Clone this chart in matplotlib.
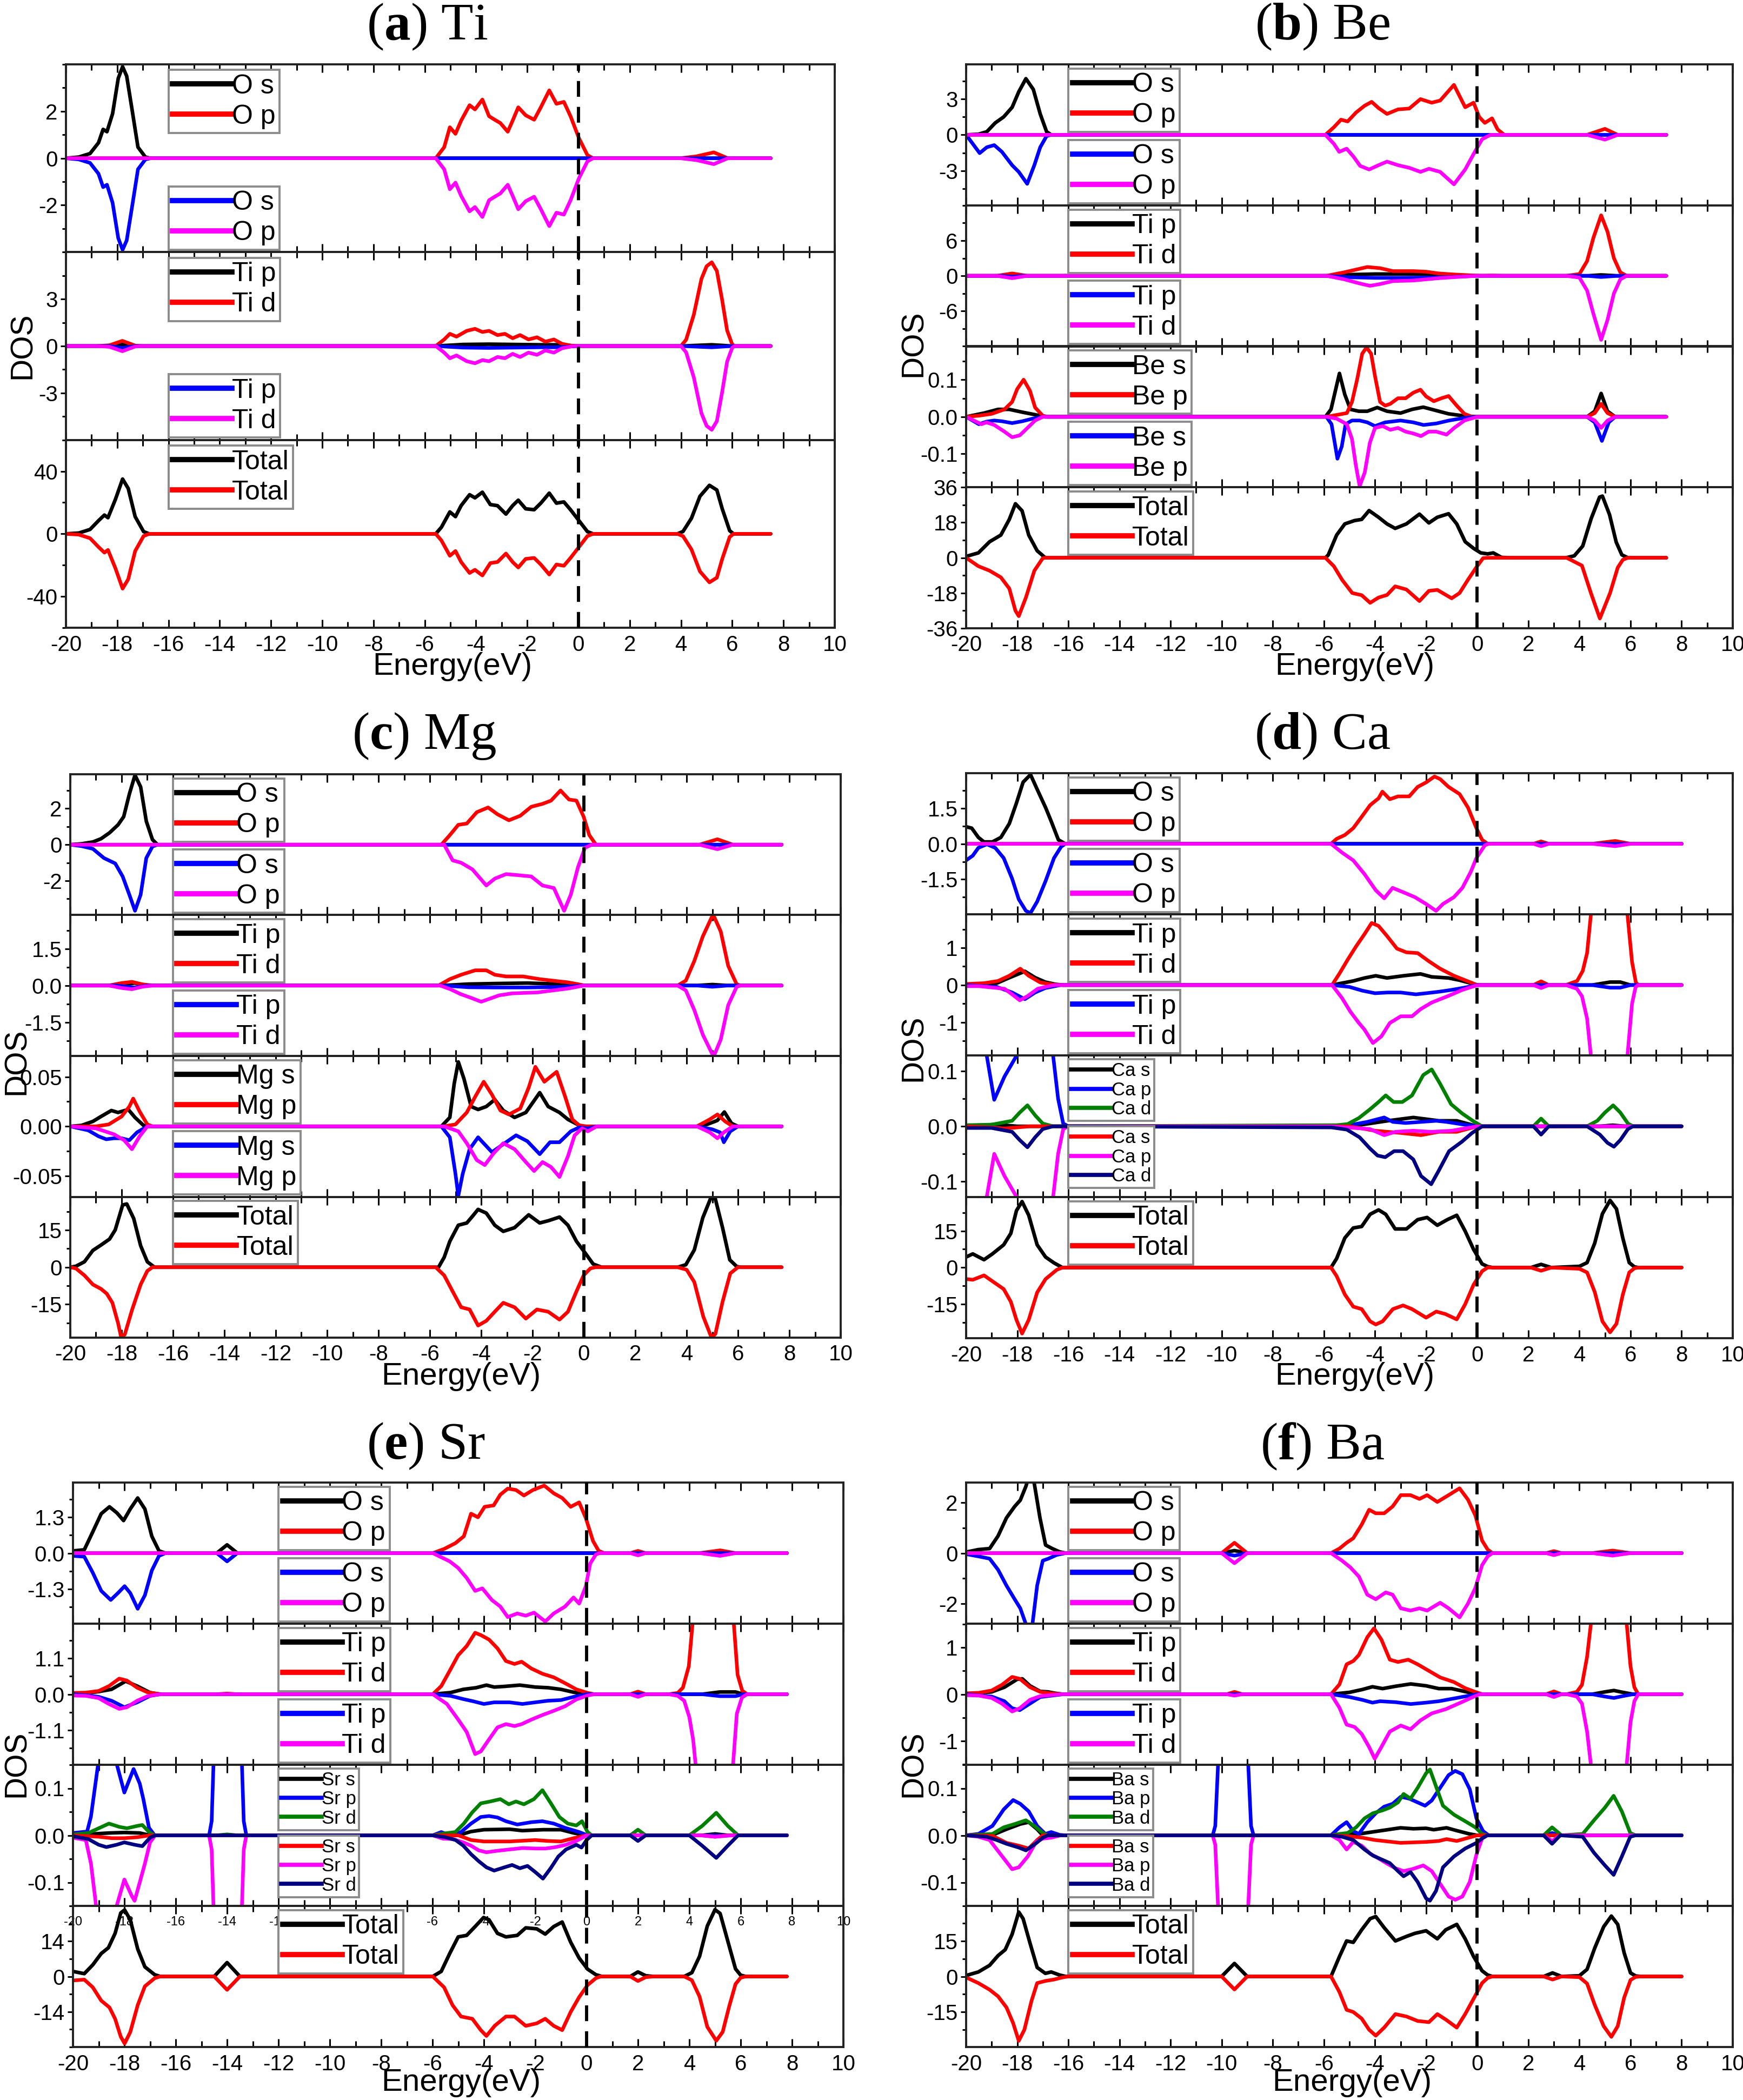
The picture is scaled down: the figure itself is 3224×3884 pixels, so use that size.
import numpy as np
import matplotlib
matplotlib.use("Agg")
import matplotlib.pyplot as plt
from matplotlib.lines import Line2D
from matplotlib.ticker import MultipleLocator

# ---------------- DATA (energy eV, DOS magnitude) ----------------
# Panel (a) Ti  (spin-up and spin-down equal)
A_OS = [(-20,0),(-19.5,0.05),(-19.06,0.2),(-18.73,0.66),(-18.55,1.23),(-18.4,1.13),(-18.18,1.9),(-17.96,3.4),(-17.79,3.9),(-17.63,3.5),(-17.41,2.0),(-17.19,0.47),(-16.9,0.05),(-16.7,0),(7.5,0)]
A_OP = [(-20,0),(-5.57,0),(-5.24,0.47),(-5.02,1.32),(-4.8,1.04),(-4.58,1.6),(-4.25,2.26),(-4.04,2.08),(-3.75,2.5),(-3.49,1.79),(-3.27,1.64),(-3.05,1.5),(-2.76,1.13),(-2.57,1.6),(-2.35,2.17),(-2.06,1.83),(-1.73,1.64),(-1.47,2.17),(-1.14,2.89),(-0.86,2.32),(-0.57,2.4),(-0.31,1.79),(0.02,0.85),(0.35,0.13),(0.57,0),(3.97,0),(4.6,0.08),(5.28,0.25),(5.83,0),(7.5,0)]
A_TIP = [(-20,0),(-18.3,0),(-17.8,0.12),(-17.3,0),(-5.57,0),(-4.5,0.1),(-3.5,0.12),(-2.5,0.1),(-1.5,0.08),(-0.8,0.08),(0,0),(4.0,0),(5.2,0.08),(6.0,0),(7.5,0)]
A_TID = [(-20,0),(-18.8,0),(-18.3,0.05),(-17.8,0.33),(-17.3,0.03),(-17.0,0),(-5.57,0),(-5.24,0.42),(-5.02,0.78),(-4.76,0.6),(-4.36,0.97),(-4.04,1.1),(-3.75,0.9),(-3.49,0.97),(-3.16,0.7),(-2.87,0.78),(-2.57,0.5),(-2.28,0.7),(-1.95,0.42),(-1.62,0.56),(-1.29,0.28),(-0.96,0.42),(-0.64,0.14),(-0.2,0),(4.0,0),(4.2,0.4),(4.5,2.0),(4.8,4.3),(5.0,5.1),(5.2,5.35),(5.4,4.8),(5.6,3.0),(5.8,1.0),(6.0,0.1),(6.1,0),(7.5,0)]
A_TOT = [(-20,0),(-19.5,0.5),(-19.06,2.8),(-18.73,8.4),(-18.5,12),(-18.36,10.3),(-18.07,22),(-17.79,35),(-17.57,29),(-17.3,11),(-16.97,1.4),(-16.75,0),(-5.57,0),(-5.35,4.2),(-5.02,14),(-4.8,11),(-4.58,18),(-4.25,25),(-4.04,23),(-3.75,26.6),(-3.44,18.7),(-3.16,18),(-2.83,12.6),(-2.57,18),(-2.35,21.5),(-2.06,16),(-1.73,15.4),(-1.47,19.6),(-1.14,26),(-0.86,19.6),(-0.57,20.4),(-0.31,15.4),(0.02,8.4),(0.35,1.4),(0.57,0),(3.86,0),(4.08,1.5),(4.41,10),(4.74,24),(5.11,31),(5.4,28),(5.61,16),(5.9,2),(6.05,0),(7.5,0)]

# Panel (b) Be
B_OS_UP = [(-20,0),(-19.52,0.05),(-19.19,0.26),(-18.86,1.0),(-18.53,1.5),(-18.2,2.3),(-17.94,3.6),(-17.66,4.7),(-17.37,3.8),(-17.1,1.75),(-16.85,0.26),(-16.67,0),(7.4,0)]
B_OS_DN = [(-20,0),(-19.74,0.75),(-19.47,1.53),(-19.19,1.04),(-18.9,0.86),(-18.6,1.42),(-18.2,2.54),(-17.94,3.1),(-17.61,4.1),(-17.33,2.54),(-17.1,1.04),(-16.85,0.1),(-16.67,0),(7.4,0)]
B_OP_UP = [(-20,0),(-5.94,0),(-5.61,0.63),(-5.33,1.27),(-5.07,1.12),(-4.74,1.87),(-4.41,2.43),(-4.13,2.76),(-3.86,2.24),(-3.53,1.75),(-3.1,2.13),(-2.66,2.2),(-2.22,2.99),(-1.78,2.69),(-1.45,2.87),(-0.91,4.18),(-0.47,2.31),(-0.14,2.69),(0.08,1.49),(0.3,1.0),(0.58,1.38),(0.8,0.45),(1.06,0),(4.3,0),(5.0,0.5),(5.5,0),(7.4,0)]
B_OP_DN = [(-20,0),(-5.94,0),(-5.61,0.75),(-5.4,1.42),(-5.11,1.16),(-4.85,1.8),(-4.58,2.6),(-4.23,2.9),(-3.86,2.54),(-3.53,2.24),(-3.1,2.54),(-2.66,2.76),(-2.22,3.1),(-1.89,2.84),(-1.45,3.1),(-0.91,4.14),(-0.47,2.9),(-0.14,1.6),(0.19,0.37),(0.52,0),(4.3,0),(5.0,0.4),(5.5,0),(7.4,0)]
B_TIP_UP = [(-20,0),(-18.6,0),(-18.2,0.15),(-17.8,0),(-5.9,0),(-5.0,0.2),(-4.0,0.3),(-3.0,0.3),(-2.0,0.3),(-1.0,0.15),(0,0),(4.3,0),(4.85,0.15),(5.5,0),(7.4,0)]
B_TIP_DN = [(-20,0),(-18.6,0),(-18.2,0.15),(-17.8,0),(-5.9,0),(-5.0,0.25),(-4.0,0.35),(-3.0,0.35),(-2.0,0.3),(-1.0,0.2),(0,0),(4.3,0),(4.85,0.2),(5.5,0),(7.4,0)]
B_TID_UP = [(-20,0),(-18.8,0),(-18.2,0.4),(-17.6,0),(-5.9,0),(-5.2,0.6),(-4.6,1.2),(-4.3,1.5),(-3.8,1.3),(-3.3,0.8),(-2.5,0.8),(-2.0,0.7),(-1.5,0.4),(-0.8,0.2),(-0.3,0.1),(0.2,0),(0.6,0.05),(1.0,0),(3.47,0),(4.0,0.3),(4.3,2.5),(4.55,6.5),(4.85,10.3),(5.1,7.5),(5.35,3.0),(5.6,0.6),(5.85,0),(7.4,0)]
B_TID_DN = [(-20,0),(-18.8,0),(-18.2,0.4),(-17.6,0),(-5.9,0),(-5.2,0.6),(-4.6,1.3),(-4.2,1.7),(-3.8,1.4),(-3.3,0.9),(-2.5,0.8),(-2.0,0.6),(-1.5,0.4),(-0.8,0.2),(0,0),(3.47,0),(4.0,0.3),(4.3,2.5),(4.55,6.5),(4.85,10.9),(5.1,7.5),(5.35,3.0),(5.6,0.6),(5.85,0),(7.4,0)]
B_BES_UP = [(-20,0),(-19.3,0.01),(-18.75,0.02),(-18.31,0.02),(-17.77,0.012),(-17.1,0.003),(-16.9,0),(-5.94,0),(-5.72,0.02),(-5.55,0.07),(-5.39,0.117),(-5.18,0.06),(-4.96,0.02),(-4.63,0.015),(-4.3,0.015),(-3.91,0.025),(-3.53,0.015),(-3.0,0.01),(-2.55,0.02),(-2.11,0.026),(-1.67,0.018),(-1.12,0.008),(-0.47,0.002),(0,0),(4.3,0),(4.6,0.015),(4.85,0.063),(5.1,0.015),(5.4,0),(7.4,0)]
B_BEP_UP = [(-20,0),(-19.5,0.003),(-19,0.008),(-18.5,0.02),(-18.2,0.04),(-18.0,0.075),(-17.75,0.1),(-17.5,0.07),(-17.3,0.025),(-17.0,0.003),(-16.8,0),(-5.9,0),(-5.5,0.005),(-5.1,0.01),(-4.9,0.04),(-4.7,0.1),(-4.5,0.17),(-4.33,0.187),(-4.15,0.17),(-4.0,0.11),(-3.8,0.04),(-3.6,0.03),(-3.4,0.035),(-3.1,0.05),(-2.8,0.05),(-2.5,0.065),(-2.22,0.073),(-2.0,0.055),(-1.7,0.042),(-1.4,0.05),(-1.12,0.056),(-0.8,0.03),(-0.5,0.008),(-0.2,0),(4.3,0),(4.6,0.01),(4.85,0.035),(5.1,0.01),(5.4,0),(7.4,0)]
B_BES_DN = [(-20,0),(-19.7,0.012),(-19.5,0.02),(-19.2,0.013),(-18.9,0.01),(-18.6,0.012),(-18.2,0.017),(-17.8,0.012),(-17.4,0.005),(-17.0,0),(-5.9,0),(-5.7,0.02),(-5.55,0.08),(-5.47,0.113),(-5.3,0.08),(-5.15,0.02),(-4.9,0.01),(-4.6,0.01),(-4.3,0.015),(-4.0,0.025),(-3.6,0.015),(-3.0,0.01),(-2.5,0.015),(-2.1,0.022),(-1.6,0.018),(-1.1,0.01),(-0.5,0.003),(0,0),(4.3,0),(4.6,0.015),(4.88,0.065),(5.15,0.015),(5.4,0),(7.4,0)]
B_BEP_DN = [(-20,0),(-19.7,0.01),(-19.4,0.02),(-19.2,0.015),(-18.9,0.022),(-18.5,0.04),(-18.2,0.055),(-17.9,0.05),(-17.6,0.03),(-17.3,0.01),(-17.0,0),(-5.9,0),(-5.5,0.005),(-5.1,0.02),(-4.9,0.06),(-4.75,0.13),(-4.6,0.187),(-4.4,0.15),(-4.2,0.07),(-4.0,0.03),(-3.7,0.025),(-3.4,0.035),(-3.1,0.03),(-2.8,0.04),(-2.5,0.045),(-2.2,0.052),(-1.9,0.04),(-1.6,0.04),(-1.2,0.048),(-0.9,0.03),(-0.5,0.01),(0,0),(4.3,0),(4.6,0.01),(4.85,0.03),(5.1,0.01),(5.4,0),(7.4,0)]
B_TOT_UP = [(-20,0.7),(-19.52,2.5),(-19.08,8.2),(-18.64,11.6),(-18.31,19.6),(-18.07,27.6),(-17.81,24),(-17.55,11.6),(-17.22,3.6),(-16.9,0),(-5.94,0),(-5.83,1.4),(-5.5,11.6),(-5.18,17.3),(-4.8,19),(-4.52,19.6),(-4.23,24.1),(-3.86,20.7),(-3.53,17.3),(-3.21,15),(-2.77,17.3),(-2.26,22.3),(-1.89,17.8),(-1.56,20.7),(-1.12,22.5),(-0.8,17.3),(-0.47,8.2),(-0.14,4.8),(0.14,2.5),(0.41,2),(0.63,2.5),(0.95,0.2),(1.28,0),(3.47,0),(3.8,1),(4.13,6),(4.46,20),(4.79,31),(4.9,31.5),(5.18,22),(5.44,8),(5.66,1.5),(5.9,0),(7.4,0)]
B_TOT_DN = [(-20,0),(-19.52,4.3),(-19.08,6.6),(-18.64,10),(-18.31,15.7),(-18.07,27),(-17.94,29.8),(-17.66,20.3),(-17.33,6.6),(-17.0,0.2),(-16.9,0),(-5.94,0),(-5.61,4.3),(-5.29,11.2),(-4.89,18),(-4.52,19.1),(-4.19,23),(-3.86,20.3),(-3.53,19),(-3.21,14.6),(-2.77,16.2),(-2.26,22.1),(-1.89,16.9),(-1.56,16.4),(-1.0,20.7),(-0.69,18),(-0.36,11.2),(-0.03,4.8),(0.23,0.2),(0.4,0),(3.5,0),(4.1,4),(4.45,18),(4.8,31),(5.2,18),(5.5,5),(5.7,1),(5.9,0),(7.4,0)]

# Panel (c) Mg
C_OS_UP = [(-20,0),(-19.56,0.05),(-19.12,0.15),(-18.8,0.33),(-18.47,0.66),(-18.14,1.1),(-17.92,1.55),(-17.7,2.8),(-17.48,3.85),(-17.26,3.2),(-17.04,1.3),(-16.8,0.28),(-16.6,0),(7.7,0)]
C_OS_DN = [(-20,0),(-19.56,0.08),(-19.12,0.23),(-18.69,0.74),(-18.25,1.04),(-17.96,1.76),(-17.7,2.77),(-17.48,3.66),(-17.26,2.77),(-17.04,0.74),(-16.8,0.1),(-16.6,0),(7.7,0)]
C_OP_UP = [(-20,0),(-5.55,0),(-5.22,0.53),(-4.89,1.1),(-4.56,1.17),(-4.17,1.8),(-3.73,2.06),(-3.36,1.68),(-2.92,1.35),(-2.48,1.6),(-2.05,2.1),(-1.61,2.26),(-1.28,2.44),(-0.91,3.0),(-0.58,2.5),(-0.29,2.44),(-0.01,1.55),(0.21,0.53),(0.47,0),(4.5,0),(5.2,0.3),(5.8,0),(7.7,0)]
C_OP_DN = [(-20,0),(-5.44,0),(-5.11,0.87),(-4.78,1.0),(-4.34,1.37),(-3.8,2.26),(-3.47,1.88),(-3.03,1.63),(-2.48,1.7),(-2.05,1.76),(-1.61,2.26),(-1.17,2.4),(-0.77,3.66),(-0.51,2.77),(-0.23,1.25),(0.04,0.18),(0.3,0),(4.5,0),(5.2,0.25),(5.8,0),(7.7,0)]
C_TIP_UP = [(-20,0),(-18.2,0),(-17.5,0.1),(-17.0,0),(-5.5,0),(-4.5,0.06),(-3.5,0.08),(-2.2,0.1),(-1.0,0.06),(0,0),(4.4,0),(5.0,0.04),(5.6,0),(7.7,0)]
C_TIP_DN = [(-20,0),(-18.2,0),(-17.5,0.08),(-17.0,0),(-5.5,0),(-4.5,0.07),(-3.5,0.08),(-2.2,0.08),(-1.0,0.06),(0,0),(4.4,0),(5.0,0.05),(5.6,0),(7.7,0)]
C_TID_UP = [(-20,0),(-18.5,0),(-18.0,0.1),(-17.6,0.15),(-17.2,0.05),(-16.8,0),(-5.66,0),(-5.22,0.26),(-4.78,0.44),(-4.23,0.62),(-3.8,0.62),(-3.47,0.44),(-3.03,0.37),(-2.37,0.37),(-1.72,0.26),(-1.06,0.18),(-0.62,0.13),(0.04,0),(3.65,0),(3.97,0.2),(4.3,1.0),(4.63,2.0),(5.03,2.9),(5.33,2.2),(5.62,0.8),(5.95,0.05),(6.1,0),(7.7,0)]
C_TID_DN = [(-20,0),(-18.5,0),(-18.0,0.1),(-17.6,0.15),(-17.2,0.05),(-16.8,0),(-5.6,0),(-5.2,0.15),(-4.8,0.35),(-4.4,0.5),(-4.0,0.66),(-3.7,0.55),(-3.3,0.4),(-2.8,0.32),(-2.3,0.3),(-1.8,0.28),(-1.2,0.2),(-0.6,0.12),(0,0),(3.65,0),(3.97,0.2),(4.3,1.0),(4.63,2.0),(5.05,2.9),(5.33,2.2),(5.62,0.8),(5.95,0.05),(6.1,0),(7.7,0)]
C_MGS_UP = [(-20,0),(-19.56,0.001),(-19.12,0.005),(-18.8,0.01),(-18.4,0.016),(-18.14,0.014),(-17.74,0.017),(-17.48,0.009),(-17.15,0.001),(-16.9,0),(-5.55,0),(-5.22,0.009),(-5.05,0.043),(-4.89,0.065),(-4.67,0.048),(-4.39,0.02),(-4.12,0.017),(-3.8,0.02),(-3.47,0.027),(-3.14,0.016),(-2.7,0.009),(-2.26,0.014),(-1.72,0.034),(-1.39,0.02),(-0.95,0.014),(-0.62,0.007),(-0.18,0.001),(0,0),(4.4,0),(4.8,0.002),(5.2,0.006),(5.47,0.0145),(5.75,0.003),(6.0,0),(7.7,0)]
C_MGP_UP = [(-20,0),(-19,0),(-18.5,0.002),(-18,0.01),(-17.7,0.02),(-17.55,0.028),(-17.3,0.015),(-17.0,0.002),(-16.8,0),(-5.44,0),(-5.0,0.002),(-4.56,0.014),(-4.23,0.03),(-3.9,0.045),(-3.58,0.032),(-3.25,0.016),(-2.92,0.012),(-2.48,0.018),(-2.15,0.039),(-1.89,0.06),(-1.54,0.045),(-1.06,0.055),(-0.73,0.03),(-0.45,0.007),(-0.18,0.001),(0.1,0),(4.4,0),(4.9,0.007),(5.2,0.012),(5.5,0.005),(5.8,0),(7.7,0)]
C_MGS_DN = [(-20,0),(-19.3,0.004),(-18.9,0.01),(-18.6,0.013),(-18.3,0.012),(-18.0,0.012),(-17.7,0.014),(-17.4,0.006),(-17.0,0),(-5.55,0),(-5.22,0.011),(-5.0,0.048),(-4.89,0.07),(-4.72,0.048),(-4.45,0.023),(-4.12,0.011),(-3.58,0.026),(-3.14,0.018),(-2.64,0.009),(-2.2,0.015),(-1.72,0.028),(-1.32,0.016),(-0.95,0.016),(-0.51,0.005),(-0.18,0.001),(0.15,0.002),(0.5,0),(4.4,0),(5.0,0.003),(5.3,0.006),(5.45,0.016),(5.7,0.005),(6.0,0),(7.7,0)]
C_MGP_DN = [(-20,0),(-19,0.002),(-18.3,0.008),(-17.9,0.014),(-17.6,0.023),(-17.3,0.01),(-17.0,0),(-5.44,0),(-4.89,0.005),(-4.56,0.017),(-4.17,0.034),(-3.86,0.039),(-3.51,0.027),(-3.14,0.017),(-2.7,0.023),(-2.26,0.036),(-1.94,0.045),(-1.61,0.036),(-1.28,0.041),(-0.95,0.051),(-0.62,0.03),(-0.36,0.009),(-0.07,0.002),(0.15,0.005),(0.5,0),(4.4,0),(4.9,0.006),(5.2,0.012),(5.45,0.006),(5.8,0),(7.7,0)]
C_TOT_UP = [(-20,0),(-19.78,0.4),(-19.45,2.2),(-19.12,6.8),(-18.8,9),(-18.47,11.4),(-18.25,15.1),(-17.96,25.2),(-17.8,25.6),(-17.53,19.7),(-17.26,8.7),(-17.0,2.2),(-16.72,0),(-5.66,0),(-5.44,4),(-5.22,10.5),(-4.89,17),(-4.56,17.9),(-4.34,20.6),(-4.12,23.4),(-3.8,21.9),(-3.47,17),(-3.14,14.5),(-2.7,16),(-2.15,21.2),(-1.72,17.9),(-1.39,18.8),(-0.95,20.3),(-0.62,17),(-0.29,10.5),(0.04,5.9),(0.36,1.3),(0.69,0),(3.65,0),(3.97,1),(4.3,7),(4.63,20),(4.96,28.5),(5.11,28),(5.4,16),(5.68,3),(5.95,0.3),(6.1,0),(7.7,0)]
C_TOT_DN = [(-20,0),(-19.78,0.5),(-19.45,3.3),(-19.12,7),(-18.8,8.8),(-18.58,10.7),(-18.36,14.4),(-18.14,22.6),(-18.03,27.8),(-17.88,27.3),(-17.59,17.1),(-17.26,7),(-17.0,1.5),(-16.8,0),(-5.77,0),(-5.44,3.3),(-5.11,9.8),(-4.78,16.2),(-4.45,17.1),(-4.12,23.6),(-3.8,21.7),(-3.47,18),(-3.14,14.4),(-2.7,16.2),(-2.26,20.8),(-1.83,17.1),(-1.39,18),(-0.95,21.2),(-0.62,18),(-0.29,9.8),(-0.01,3.3),(0.25,0.5),(0.45,0),(3.65,0),(4.0,1),(4.3,6),(4.65,20),(4.97,28.5),(5.12,27),(5.4,14),(5.7,2.5),(6.0,0),(7.7,0)]

# Panel (d) Ca
D_OS_UP = [(-20,0.72),(-19.78,0.66),(-19.52,0.27),(-19.3,0.08),(-18.97,0.08),(-18.64,0.27),(-18.31,0.85),(-18.03,1.72),(-17.77,2.6),(-17.48,2.92),(-17.22,2.3),(-16.89,1.53),(-16.67,0.95),(-16.39,0.17),(-16.12,0),(8.0,0)]
D_OS_DN = [(-20,0.7),(-19.74,0.5),(-19.52,0.17),(-19.19,0.02),(-18.86,0.17),(-18.53,0.6),(-18.2,1.47),(-17.94,2.34),(-17.66,2.83),(-17.48,2.92),(-17.22,2.44),(-16.89,1.57),(-16.56,0.6),(-16.28,0.12),(-16.12,0),(8.0,0)]
D_OP_UP = [(-20,0),(-5.72,0),(-5.5,0.21),(-5.18,0.37),(-4.85,0.66),(-4.52,1.14),(-4.19,1.63),(-3.86,1.92),(-3.71,2.2),(-3.42,1.88),(-3.1,2.0),(-2.66,2.0),(-2.33,2.4),(-2.0,2.59),(-1.67,2.84),(-1.45,2.73),(-1.12,2.4),(-0.69,2.1),(-0.36,1.53),(-0.03,0.66),(0.19,0.17),(0.41,0),(2.2,0),(2.5,0.1),(2.8,0),(4.5,0),(5.4,0.12),(6.0,0),(8.0,0)]
D_OP_DN = [(-20,0),(-5.72,0),(-5.29,0.37),(-4.85,0.7),(-4.41,1.28),(-3.97,1.96),(-3.64,2.3),(-3.31,1.86),(-2.88,2.05),(-2.44,2.25),(-2.0,2.54),(-1.61,2.83),(-1.34,2.54),(-0.91,2.25),(-0.58,1.86),(-0.25,1.18),(-0.03,0.6),(0.3,0.06),(0.45,0),(2.2,0),(2.5,0.1),(2.8,0),(4.5,0),(5.4,0.1),(6.0,0),(8.0,0)]
D_TIP_UP = [(-20,0),(-18.8,0.05),(-18.3,0.2),(-17.7,0.37),(-17.3,0.2),(-16.9,0.08),(-16.5,0.02),(-16.2,0),(-5.68,0),(-4.85,0.11),(-4.41,0.19),(-3.97,0.25),(-3.53,0.19),(-2.88,0.25),(-2.22,0.3),(-1.78,0.22),(-1.12,0.19),(-0.69,0.13),(-0.25,0.05),(0,0),(4.5,0),(5.2,0.08),(5.6,0.08),(6.0,0),(8.0,0)]
D_TIP_DN = [(-20,0),(-18.8,0.05),(-18.2,0.2),(-17.7,0.38),(-17.3,0.2),(-16.9,0.08),(-16.3,0),(-5.68,0),(-5.0,0.05),(-4.5,0.15),(-4.0,0.22),(-3.5,0.2),(-3.0,0.2),(-2.4,0.25),(-2.0,0.22),(-1.5,0.18),(-1.0,0.13),(-0.5,0.07),(0,0),(4.5,0),(5.2,0.07),(5.6,0.07),(6.0,0),(8.0,0)]
D_TID_UP = [(-20,0.03),(-19.3,0.05),(-18.75,0.11),(-18.31,0.25),(-17.88,0.44),(-17.55,0.25),(-17.1,0.07),(-16.67,0.02),(-16.4,0),(-5.68,0),(-5.39,0.31),(-5.07,0.68),(-4.74,1.04),(-4.41,1.37),(-4.13,1.67),(-3.86,1.59),(-3.53,1.32),(-3.14,0.98),(-2.77,0.88),(-2.33,0.86),(-1.89,0.64),(-1.45,0.44),(-0.91,0.25),(-0.47,0.13),(-0.03,0.01),(0.2,0),(2.2,0),(2.5,0.1),(2.8,0),(3.47,0),(3.91,0.11),(4.13,0.38),(4.3,0.86),(4.45,1.9),(4.6,3.5),(4.9,7),(5.2,8),(5.5,6),(5.75,3),(5.88,1.9),(6.06,0.62),(6.21,0.07),(6.3,0),(8.0,0)]
D_TID_DN = [(-20,0.03),(-19.5,0.03),(-18.5,0.1),(-18.2,0.25),(-17.9,0.41),(-17.6,0.3),(-17.2,0.1),(-16.7,0.02),(-16.5,0),(-5.68,0),(-5.29,0.35),(-4.96,0.72),(-4.63,1.02),(-4.41,1.2),(-4.08,1.56),(-3.75,1.38),(-3.42,1.02),(-2.99,0.84),(-2.55,0.84),(-2.22,0.65),(-1.78,0.47),(-1.12,0.29),(-0.58,0.13),(-0.03,0.01),(0.2,0),(2.2,0),(2.5,0.08),(2.8,0),(3.47,0),(3.9,0.1),(4.1,0.3),(4.3,0.9),(4.45,1.9),(4.6,3.5),(4.9,7),(5.2,8),(5.5,6),(5.75,3),(5.88,1.9),(6.06,0.5),(6.2,0.05),(6.3,0),(8.0,0)]
D_CAS_UP = [(-20,0),(-19.5,0.001),(-19.0,0.003),(-18.5,0.002),(-18,0),(-5.0,0),(-4.5,0.003),(-3.5,0.01),(-2.5,0.016),(-1.5,0.01),(-0.8,0.01),(0,0),(4.8,0),(5.3,0.002),(5.8,0),(8.0,0)]
D_CAP_UP = [(-20,0.5),(-19.4,0.3),(-19.2,0.13),(-18.9,0.048),(-18.5,0.09),(-18.0,0.13),(-17.6,0.4),(-17.0,0.4),(-16.6,0.13),(-16.4,0.05),(-16.2,0.005),(-16.0,0),(-5.7,0),(-5.0,0.002),(-4.3,0.008),(-3.64,0.016),(-3.3,0.008),(-2.8,0.006),(-2.2,0.008),(-1.6,0.01),(-1.2,0.008),(-0.5,0.003),(0.1,0),(8.0,0)]
D_CAD_UP = [(-20,0.002),(-19,0.003),(-18.2,0.01),(-17.9,0.025),(-17.6,0.038),(-17.3,0.02),(-17.0,0.005),(-16.6,0),(-5.5,0.002),(-5.07,0.004),(-4.63,0.015),(-4.19,0.031),(-3.86,0.044),(-3.58,0.056),(-3.27,0.044),(-2.93,0.044),(-2.55,0.056),(-2.11,0.093),(-1.78,0.103),(-1.45,0.077),(-1.02,0.04),(-0.58,0.023),(-0.14,0.009),(0.19,0),(2.2,0),(2.5,0.014),(2.8,0),(4.3,0),(4.7,0.01),(5.0,0.025),(5.32,0.038),(5.6,0.025),(5.9,0.005),(6.1,0),(8.0,0)]
D_CAS_DN = [(-20,0),(-19,0.002),(-18.5,0.004),(-18,0.002),(-17.5,0),(-5.0,0),(-4.0,0.008),(-3.0,0.012),(-2.2,0.016),(-1.5,0.01),(-0.8,0.01),(0,0),(8.0,0)]
D_CAP_DN = [(-20,0.5),(-19.4,0.3),(-19.2,0.13),(-18.9,0.05),(-18.5,0.09),(-18.0,0.13),(-17.6,0.4),(-17.0,0.4),(-16.6,0.13),(-16.4,0.05),(-16.2,0.005),(-16.0,0),(-5.7,0),(-4.2,0.005),(-3.64,0.016),(-3.2,0.01),(-2.5,0.008),(-1.8,0.01),(-1.0,0.008),(0,0),(8.0,0)]
D_CAD_DN = [(-20,0.003),(-19,0.003),(-18.2,0.01),(-17.9,0.025),(-17.6,0.038),(-17.3,0.02),(-17.0,0.005),(-16.6,0),(-5.7,0.002),(-5.1,0.006),(-4.6,0.02),(-4.2,0.04),(-3.9,0.053),(-3.6,0.056),(-3.25,0.045),(-2.9,0.045),(-2.5,0.06),(-2.2,0.09),(-1.8,0.105),(-1.5,0.08),(-1.1,0.045),(-0.6,0.028),(-0.2,0.012),(0.2,0),(2.2,0),(2.5,0.015),(2.8,0),(4.3,0),(4.8,0.015),(5.1,0.03),(5.35,0.037),(5.6,0.025),(5.9,0.005),(6.1,0),(8.0,0)]
D_TOT_UP = [(-20,4.3),(-19.74,5.6),(-19.3,3.2),(-18.97,5.6),(-18.53,9.3),(-18.25,14),(-18.03,23.3),(-17.81,27),(-17.55,21.4),(-17.22,9.3),(-16.89,4.3),(-16.56,1.9),(-16.23,0),(-5.72,0),(-5.5,3.7),(-5.18,12.1),(-4.85,16.2),(-4.52,16.8),(-4.19,21.8),(-3.86,23.6),(-3.58,21.8),(-3.21,15.8),(-2.77,15.8),(-2.33,19.6),(-1.96,20.5),(-1.56,17.3),(-1.17,19.6),(-0.8,21.4),(-0.47,14.9),(-0.14,7.4),(0.19,1.5),(0.41,0.4),(0.6,0),(2.1,0),(2.5,1.3),(2.9,0),(4.0,0.5),(4.3,2),(4.6,10),(4.9,22),(5.2,27.5),(5.45,24),(5.7,12),(5.95,2),(6.15,0.3),(6.3,0),(8.0,0)]
D_TOT_DN = [(-20,4.7),(-19.74,5),(-19.3,3.2),(-18.97,5.6),(-18.53,8.8),(-18.25,14),(-18.03,21.4),(-17.81,27),(-17.55,21.4),(-17.22,10.2),(-16.89,4.7),(-16.45,0.9),(-16.23,0),(-5.72,0),(-5.5,3.5),(-5.18,11),(-4.85,16),(-4.52,17),(-4.19,22),(-3.97,23.3),(-3.7,22),(-3.3,17),(-2.9,15.5),(-2.55,17),(-2.0,20.5),(-1.6,18),(-1.25,19),(-0.8,21.2),(-0.47,15),(-0.14,7),(0.19,1.5),(0.41,0),(2.1,0),(2.5,1.3),(2.9,0),(4.0,0.5),(4.3,2),(4.6,10),(4.9,22),(5.2,26.5),(5.45,23),(5.7,11),(5.95,2),(6.15,0.3),(6.3,0),(8.0,0)]

# Panel (e) Sr
E_OS_UP = [(-20,0.08),(-19.56,0.12),(-19.23,0.77),(-18.9,1.43),(-18.58,1.68),(-18.29,1.46),(-18.03,1.18),(-17.77,1.6),(-17.48,2.0),(-17.2,1.6),(-16.93,0.61),(-16.65,0.08),(-16.4,0),(-14.4,0),(-14.0,0.3),(-13.6,0),(7.8,0)]
E_OS_DN = [(-20,0.1),(-19.56,0.13),(-19.23,0.71),(-18.9,1.37),(-18.53,1.7),(-18.25,1.45),(-17.99,1.2),(-17.77,1.45),(-17.48,2.02),(-17.2,1.53),(-16.93,0.63),(-16.65,0.1),(-16.4,0),(-14.4,0),(-14.0,0.3),(-13.6,0),(7.8,0)]
E_OP_UP = [(-20,0),(-5.99,0),(-5.55,0.15),(-5.11,0.36),(-4.78,0.61),(-4.5,1.43),(-4.23,1.3),(-3.97,1.68),(-3.62,1.73),(-3.36,2.12),(-3.07,2.34),(-2.75,2.29),(-2.44,2.09),(-2.09,2.29),(-1.65,2.45),(-1.28,2.17),(-0.95,2.0),(-0.62,1.68),(-0.29,1.84),(-0.03,1.27),(0.25,0.44),(0.47,0.08),(0.69,0),(1.7,0),(2.0,0.08),(2.3,0),(4.4,0),(5.2,0.1),(5.8,0),(7.8,0)]
E_OP_DN = [(-20,0),(-5.99,0),(-5.33,0.3),(-5.0,0.54),(-4.67,0.9),(-4.34,1.37),(-4.06,1.28),(-3.69,1.7),(-3.36,1.94),(-3.07,2.32),(-2.7,2.19),(-2.37,2.27),(-2.05,2.16),(-1.61,2.48),(-1.28,2.19),(-0.84,1.94),(-0.51,1.61),(-0.29,1.83),(-0.03,1.2),(0.14,0.38),(0.36,0.05),(0.5,0),(1.7,0),(2.0,0.08),(2.3,0),(4.4,0),(5.2,0.1),(5.8,0),(7.8,0)]
E_TIP_UP = [(-20,0),(-19.5,0.03),(-19.0,0.08),(-18.5,0.15),(-17.95,0.4),(-17.5,0.25),(-17.0,0.05),(-16.6,0),(-6.0,0),(-5.3,0.05),(-4.8,0.15),(-4.3,0.2),(-3.9,0.28),(-3.6,0.22),(-3.2,0.24),(-2.6,0.28),(-2.0,0.22),(-1.5,0.2),(-1.0,0.15),(-0.5,0.06),(0,0),(1.7,0),(1.9,0.03),(2.2,0),(4.5,0),(5.2,0.07),(5.8,0.07),(6.1,0),(7.8,0)]
E_TIP_DN = [(-20,0),(-19.5,0.03),(-19.0,0.08),(-18.5,0.2),(-18.0,0.4),(-17.5,0.25),(-17.0,0.05),(-16.6,0),(-6.0,0),(-5.3,0.05),(-4.8,0.15),(-4.4,0.22),(-4.0,0.3),(-3.6,0.25),(-3.0,0.25),(-2.5,0.3),(-2.0,0.25),(-1.5,0.2),(-1.0,0.18),(-0.5,0.08),(0,0),(4.5,0),(5.2,0.06),(5.8,0.06),(6.1,0),(7.8,0)]
E_TID_UP = [(-20,0.04),(-19.5,0.05),(-19.0,0.1),(-18.6,0.25),(-18.2,0.48),(-17.9,0.42),(-17.5,0.2),(-17.1,0.06),(-16.7,0.01),(-16.5,0),(-14.4,0),(-14.0,0.02),(-13.6,0),(-5.99,0),(-5.66,0.25),(-5.33,0.72),(-5.0,1.2),(-4.67,1.48),(-4.34,1.89),(-4.12,1.82),(-3.8,1.68),(-3.47,1.41),(-3.14,1.02),(-2.81,0.93),(-2.53,1.0),(-2.15,0.79),(-1.72,0.63),(-1.28,0.52),(-0.84,0.34),(-0.4,0.15),(0.04,0.04),(0.3,0),(1.7,0),(2.0,0.08),(2.3,0),(3.2,0),(3.55,0.04),(3.75,0.2),(3.98,0.86),(4.13,2.2),(4.4,5),(4.9,8),(5.4,5),(5.73,2.2),(5.88,0.6),(6.06,0.11),(6.25,0),(7.8,0)]
E_TID_DN = [(-20,0.04),(-19.5,0.05),(-19.0,0.12),(-18.6,0.3),(-18.2,0.45),(-17.9,0.4),(-17.5,0.2),(-17.1,0.06),(-16.7,0.01),(-16.5,0),(-5.99,0),(-5.44,0.3),(-5.0,0.78),(-4.67,1.16),(-4.34,1.84),(-4.12,1.76),(-3.8,1.39),(-3.47,1.02),(-3.14,0.92),(-2.81,0.98),(-2.53,0.92),(-2.15,0.78),(-1.72,0.64),(-1.28,0.51),(-0.84,0.37),(-0.4,0.16),(0.04,0.04),(0.3,0),(1.7,0),(2.0,0.08),(2.3,0),(3.2,0),(3.55,0.05),(3.8,0.2),(4.0,0.7),(4.15,1.4),(4.25,2.2),(4.5,5),(4.9,8),(5.4,5),(5.7,2.2),(5.85,0.6),(6.05,0.1),(6.25,0),(7.8,0)]
E_SRS_UP = [(-20,0),(-19.5,0.002),(-18.6,0.005),(-18.0,0.006),(-17.4,0.005),(-17.0,0),(-5.0,0),(-4.5,0.008),(-4.0,0.012),(-3.0,0.013),(-2.5,0.01),(-1.7,0.012),(-1.0,0.012),(-0.5,0.005),(0,0),(4.5,0),(5.0,0.003),(5.5,0),(7.8,0)]
E_SRP_UP = [(-20,0.005),(-19.45,0.008),(-19.3,0.04),(-19.15,0.1),(-19.0,0.16),(-18.7,0.25),(-18.4,0.17),(-18.29,0.15),(-18.0,0.091),(-17.64,0.141),(-17.4,0.11),(-17.26,0.077),(-17.04,0.016),(-16.82,0),(-14.7,0),(-14.6,0.03),(-14.5,0.2),(-14.0,0.8),(-13.45,0.2),(-13.35,0.03),(-13.25,0),(-5.99,0),(-5.66,0.007),(-5.33,0),(-4.89,0.007),(-4.5,0.025),(-4.12,0.039),(-3.8,0.041),(-3.47,0.038),(-3.14,0.03),(-2.7,0.023),(-2.15,0.028),(-1.72,0.03),(-1.28,0.025),(-0.84,0.016),(-0.29,0.007),(0.04,0),(7.8,0)]
E_SRD_UP = [(-20,0.002),(-19.4,0.005),(-19.0,0.015),(-18.6,0.025),(-18.2,0.018),(-17.9,0.015),(-17.5,0.02),(-17.3,0.022),(-17.0,0.005),(-16.8,0),(-14.4,0),(-14.0,0.002),(-13.6,0),(-5.99,0),(-5.55,0.004),(-5.11,0.007),(-4.78,0.025),(-4.45,0.049),(-4.12,0.068),(-3.75,0.072),(-3.36,0.077),(-3.03,0.066),(-2.75,0.072),(-2.44,0.066),(-2.05,0.077),(-1.72,0.096),(-1.39,0.068),(-1.06,0.039),(-0.73,0.025),(-0.4,0.021),(-0.18,0.03),(0.04,0.007),(0.2,0),(1.7,0),(2.0,0.012),(2.3,0),(4.0,0),(4.5,0.02),(5.05,0.048),(5.5,0.02),(5.9,0),(7.8,0)]
E_SRS_DN = [(-20,0),(-19.0,0.003),(-18.5,0.006),(-18.0,0.006),(-17.5,0.004),(-17.0,0),(-5.0,0),(-4.5,0.01),(-4.0,0.013),(-3.0,0.013),(-2.0,0.01),(-1.5,0.012),(-1.0,0.013),(-0.5,0.006),(0,0),(4.5,0),(5.0,0.003),(5.5,0),(7.8,0)]
E_SRP_DN = [(-20,0.005),(-19.5,0.01),(-19.3,0.06),(-19.1,0.15),(-18.9,0.25),(-18.6,0.25),(-18.3,0.15),(-18.0,0.094),(-17.7,0.13),(-17.6,0.139),(-17.4,0.1),(-17.2,0.06),(-17.0,0.015),(-16.8,0),(-14.7,0),(-14.6,0.03),(-14.5,0.2),(-14.0,0.8),(-13.45,0.2),(-13.35,0.03),(-13.25,0),(-6.0,0),(-5.6,0.007),(-5.2,0.008),(-4.8,0.015),(-4.5,0.022),(-4.2,0.032),(-3.9,0.036),(-3.5,0.033),(-3.0,0.03),(-2.5,0.027),(-2.0,0.028),(-1.6,0.028),(-1.2,0.025),(-0.8,0.02),(-0.4,0.012),(0,0),(4.4,0),(5.0,0.003),(5.7,0),(7.8,0)]
E_SRD_DN = [(-20,0.002),(-19.4,0.008),(-19.0,0.02),(-18.7,0.025),(-18.3,0.02),(-18.0,0.015),(-17.6,0.02),(-17.3,0.023),(-17.0,0.005),(-16.8,0),(-6.0,0),(-5.5,0.004),(-5.1,0.01),(-4.8,0.022),(-4.5,0.04),(-4.2,0.055),(-3.9,0.068),(-3.6,0.075),(-3.2,0.068),(-2.9,0.063),(-2.6,0.07),(-2.3,0.065),(-2.0,0.078),(-1.7,0.092),(-1.4,0.07),(-1.1,0.045),(-0.8,0.03),(-0.4,0.02),(-0.2,0.026),(0,0.01),(0.2,0),(1.7,0),(2.0,0.012),(2.3,0),(4.0,0),(4.5,0.022),(5.05,0.048),(5.5,0.022),(5.9,0),(7.8,0)]
E_TOT_UP = [(-20,2),(-19.56,1.1),(-19.23,4.6),(-18.9,9.1),(-18.62,11.4),(-18.36,17.1),(-18.14,25.2),(-17.99,26.4),(-17.77,22.5),(-17.48,10.9),(-17.2,3.8),(-16.82,0.7),(-16.6,0),(-14.5,0),(-14.0,5.5),(-13.5,0),(-5.99,0),(-5.66,2),(-5.33,9.1),(-5.0,15.7),(-4.67,16.3),(-4.34,19.8),(-4.01,23.4),(-3.8,22.5),(-3.47,17.1),(-3.14,15.7),(-2.7,16.3),(-2.37,19.3),(-1.94,18.9),(-1.61,16.8),(-1.28,19.8),(-0.95,21.6),(-0.62,13.6),(-0.29,7.3),(0.04,2.9),(0.36,0.7),(0.6,0),(1.7,0),(2.0,1.8),(2.3,0.3),(2.6,0),(3.8,0),(4.1,1.5),(4.4,8),(4.7,20),(5.0,26.5),(5.2,25),(5.5,14),(5.8,3),(6.0,0.5),(6.2,0),(7.8,0)]
E_TOT_DN = [(-20,1.6),(-19.56,1.25),(-19.23,4.3),(-18.9,9.6),(-18.58,12.3),(-18.36,16.8),(-18.14,23.9),(-17.99,26.6),(-17.77,22.1),(-17.48,11.4),(-17.2,3.9),(-16.82,0.7),(-16.6,0),(-14.5,0),(-14.0,5.3),(-13.5,0),(-5.99,0),(-5.55,4.3),(-5.22,11.4),(-4.89,15.9),(-4.45,16.8),(-4.12,21.3),(-3.9,23.6),(-3.58,19.6),(-3.14,15.9),(-2.81,15.9),(-2.37,19.6),(-1.94,18.6),(-1.61,16.8),(-1.28,19.6),(-0.95,21.3),(-0.62,14.1),(-0.29,8.2),(0.04,3.4),(0.36,0.7),(0.55,0),(1.7,0),(2.0,1.8),(2.3,0.3),(2.6,0),(3.8,0),(4.1,1.5),(4.4,8),(4.7,20),(5.05,25.5),(5.3,22),(5.55,12),(5.8,3),(6.0,0.5),(6.2,0),(7.8,0)]

# Panel (f) Ba
F_OS_UP = [(-20,0.04),(-19.52,0.14),(-19.08,0.18),(-18.75,0.68),(-18.42,1.4),(-18.1,1.85),(-17.88,2.1),(-17.66,2.65),(-17.5,3.2),(-17.33,2.75),(-17.11,1.4),(-16.89,0.32),(-16.63,0.18),(-16.34,0.05),(-16.1,0),(-10.0,0),(-9.5,0.1),(-9.0,0),(8.0,0)]
F_OS_DN = [(-20,0.04),(-19.52,0.13),(-19.08,0.22),(-18.75,0.66),(-18.42,1.29),(-18.1,1.83),(-17.88,2.19),(-17.66,2.82),(-17.45,3.2),(-17.22,1.29),(-17.0,0.3),(-16.78,0.22),(-16.45,0.07),(-16.1,0),(-10.0,0),(-9.5,0.1),(-9.0,0),(8.0,0)]
F_OP_UP = [(-20,0),(-10.0,0),(-9.5,0.41),(-9.0,0),(-5.72,0),(-5.39,0.18),(-5.11,0.41),(-4.85,0.59),(-4.52,1.13),(-4.23,1.72),(-3.97,1.58),(-3.64,1.58),(-3.31,1.85),(-2.99,2.3),(-2.61,2.3),(-2.26,2.15),(-1.96,2.3),(-1.56,2.03),(-1.12,2.3),(-0.69,2.57),(-0.36,2.12),(-0.07,1.49),(0.19,0.5),(0.41,0.14),(0.6,0),(2.7,0),(3.0,0.08),(3.3,0),(4.5,0),(5.3,0.1),(6.0,0),(8.0,0)]
F_OP_DN = [(-20,0),(-10.0,0),(-9.5,0.4),(-9.0,0),(-5.72,0),(-5.29,0.3),(-4.96,0.57),(-4.63,0.93),(-4.3,1.65),(-3.97,1.83),(-3.58,1.56),(-3.31,1.65),(-2.99,2.19),(-2.61,2.28),(-2.26,2.19),(-1.96,2.28),(-1.45,1.97),(-1.12,2.19),(-0.69,2.55),(-0.36,2.0),(-0.07,1.38),(0.19,0.48),(0.41,0.13),(0.6,0),(2.7,0),(3.0,0.08),(3.3,0),(4.5,0),(5.3,0.1),(6.0,0),(8.0,0)]
F_TIP_UP = [(-20,0),(-19.0,0.05),(-18.5,0.15),(-18.0,0.32),(-17.8,0.33),(-17.5,0.18),(-17.1,0.06),(-16.8,0.05),(-16.5,0.02),(-16.2,0),(-5.7,0),(-5.0,0.04),(-4.5,0.1),(-4.1,0.16),(-3.7,0.12),(-3.2,0.17),(-2.6,0.22),(-2.0,0.18),(-1.5,0.12),(-1.0,0.12),(-0.5,0.06),(0,0),(4.5,0),(5.0,0.05),(5.35,0.08),(5.7,0.04),(6.1,0),(8.0,0)]
F_TIP_DN = [(-20,0),(-19.0,0.05),(-18.5,0.15),(-18.2,0.3),(-17.9,0.34),(-17.5,0.2),(-17.1,0.06),(-16.8,0.04),(-16.5,0.02),(-16.2,0),(-5.7,0),(-5.0,0.06),(-4.5,0.12),(-4.1,0.18),(-3.8,0.15),(-3.2,0.17),(-2.6,0.21),(-2.0,0.18),(-1.5,0.15),(-1.0,0.1),(-0.5,0.05),(0,0),(4.5,0),(5.0,0.05),(5.35,0.08),(5.7,0.04),(6.1,0),(8.0,0)]
F_TID_UP = [(-20,0.02),(-19.5,0.03),(-19.0,0.08),(-18.6,0.2),(-18.2,0.37),(-17.9,0.33),(-17.5,0.15),(-17.1,0.05),(-16.7,0.02),(-16.3,0),(-9.8,0),(-9.5,0.05),(-9.2,0),(-5.72,0),(-5.39,0.21),(-5.11,0.64),(-4.85,0.71),(-4.63,0.84),(-4.3,1.22),(-4.04,1.41),(-3.75,1.17),(-3.42,0.74),(-3.1,0.69),(-2.7,0.74),(-2.33,0.64),(-1.89,0.5),(-1.45,0.36),(-0.91,0.26),(-0.47,0.13),(-0.03,0.04),(0.2,0),(2.7,0),(3.0,0.06),(3.3,0),(3.5,0),(3.9,0.05),(4.1,0.2),(4.3,0.8),(4.45,1.51),(4.7,4),(5.2,7),(5.6,4),(5.85,1.51),(6.0,0.6),(6.15,0.15),(6.3,0),(8.0,0)]
F_TID_DN = [(-20,0.02),(-19.5,0.03),(-19.0,0.08),(-18.6,0.2),(-18.2,0.37),(-17.9,0.3),(-17.5,0.12),(-17.1,0.04),(-16.7,0.02),(-16.3,0),(-9.8,0),(-9.5,0.03),(-9.2,0),(-5.72,0),(-5.39,0.29),(-5.11,0.65),(-4.8,0.7),(-4.52,0.85),(-4.23,1.13),(-4.01,1.38),(-3.75,1.13),(-3.42,0.8),(-2.99,0.67),(-2.61,0.75),(-2.22,0.56),(-1.78,0.41),(-1.23,0.32),(-0.69,0.19),(-0.25,0.08),(0.1,0),(2.7,0),(3.0,0.06),(3.3,0),(3.5,0),(3.9,0.05),(4.1,0.2),(4.3,0.8),(4.45,1.51),(4.7,4),(5.2,7),(5.6,4),(5.85,1.51),(6.0,0.6),(6.15,0.15),(6.3,0),(8.0,0)]
F_BAS_UP = [(-20,0),(-19.0,0),(-18.42,0.013),(-17.88,0.024),(-17.55,0.028),(-17.22,0.013),(-17.0,0),(-5.7,0),(-5.0,0.002),(-4.5,0.004),(-4.0,0.008),(-3.5,0.012),(-3.0,0.016),(-2.5,0.014),(-2.0,0.015),(-1.7,0.012),(-1.2,0.016),(-0.8,0.01),(-0.3,0.003),(0,0),(8.0,0)]
F_BAP_UP = [(-20,0),(-19.52,0.003),(-18.97,0.02),(-18.53,0.055),(-18.16,0.075),(-17.88,0.067),(-17.55,0.051),(-17.22,0.02),(-16.9,0.003),(-16.67,0.007),(-16.34,0.001),(-16.1,0),(-10.35,0),(-10.25,0.02),(-10.1,0.2),(-9.5,0.8),(-9.0,0.2),(-8.85,0.02),(-8.75,0),(-5.72,0),(-5.39,0.017),(-5.11,0.028),(-4.85,0.009),(-4.63,0.003),(-4.3,0.028),(-3.97,0.047),(-3.64,0.061),(-3.31,0.067),(-2.99,0.082),(-2.66,0.078),(-2.33,0.07),(-2.04,0.063),(-1.78,0.074),(-1.45,0.101),(-1.12,0.128),(-0.86,0.137),(-0.58,0.13),(-0.29,0.098),(-0.03,0.036),(0.23,0.009),(0.45,0),(2.7,0),(2.93,0.005),(3.2,0),(8.0,0)]
F_BAD_UP = [(-20,0),(-18.97,0.003),(-18.53,0.017),(-18.1,0.024),(-17.66,0.032),(-17.33,0.02),(-17.0,0.005),(-16.8,0),(-5.72,0),(-5.39,0.003),(-5.07,0.005),(-4.74,0.017),(-4.41,0.036),(-4.08,0.047),(-3.71,0.053),(-3.42,0.059),(-3.1,0.07),(-2.88,0.088),(-2.61,0.078),(-2.33,0.101),(-2.0,0.132),(-1.85,0.14),(-1.67,0.113),(-1.34,0.063),(-0.91,0.044),(-0.47,0.03),(-0.07,0.017),(0.19,0.003),(0.4,0),(2.6,0),(2.93,0.017),(3.3,0),(4.13,0.003),(4.57,0.032),(5.0,0.059),(5.34,0.084),(5.66,0.051),(5.99,0.005),(6.2,0),(8.0,0)]
F_BAS_DN = [(-20,0),(-18.97,0.001),(-18.42,0.016),(-17.94,0.022),(-17.55,0.028),(-17.22,0.01),(-17.0,0),(-5.7,0),(-5.0,0.002),(-4.5,0.005),(-4.0,0.01),(-3.5,0.013),(-3.0,0.016),(-2.5,0.015),(-2.0,0.014),(-1.5,0.012),(-1.2,0.008),(-0.8,0.012),(-0.4,0.006),(0,0),(8.0,0)]
F_BAP_DN = [(-20,0),(-19.52,0.003),(-19.08,0.01),(-18.64,0.041),(-18.2,0.072),(-17.94,0.068),(-17.59,0.045),(-17.26,0.014),(-17.0,0.007),(-16.67,0.005),(-16.3,0),(-10.35,0),(-10.25,0.02),(-10.1,0.2),(-9.5,0.8),(-9.0,0.2),(-8.85,0.02),(-8.75,0),(-5.72,0),(-5.39,0.01),(-5.11,0.03),(-4.85,0.014),(-4.52,0.022),(-4.19,0.039),(-3.86,0.049),(-3.53,0.06),(-3.2,0.07),(-2.88,0.076),(-2.55,0.072),(-2.11,0.064),(-1.78,0.076),(-1.45,0.103),(-1.12,0.13),(-0.86,0.137),(-0.58,0.13),(-0.29,0.099),(-0.03,0.041),(0.19,0.007),(0.4,0),(2.6,0),(2.93,0.012),(3.25,0),(8.0,0)]
F_BAD_DN = [(-20,0),(-19.2,0.003),(-18.8,0.01),(-18.42,0.018),(-17.94,0.026),(-17.66,0.032),(-17.29,0.018),(-17.0,0.005),(-16.8,0),(-5.72,0),(-5.29,0.003),(-4.85,0.01),(-4.41,0.03),(-4.08,0.043),(-3.75,0.051),(-3.42,0.059),(-3.1,0.076),(-2.88,0.087),(-2.61,0.078),(-2.33,0.099),(-2.0,0.134),(-1.85,0.139),(-1.61,0.118),(-1.34,0.068),(-0.91,0.045),(-0.47,0.028),(-0.03,0.016),(0.23,0.005),(0.4,0),(2.6,0),(2.93,0.018),(3.25,0),(4.13,0.003),(4.57,0.037),(5.0,0.064),(5.34,0.084),(5.66,0.045),(5.99,0.003),(6.2,0),(8.0,0)]
F_TOT_UP = [(-20,0.4),(-19.52,1.9),(-19.08,4.7),(-18.75,8.8),(-18.47,11.3),(-18.2,17.8),(-17.94,27.2),(-17.77,24.4),(-17.5,14.1),(-17.22,3.8),(-16.9,1.3),(-16.67,1.9),(-16.34,0.6),(-16.1,0),(-10.0,0),(-9.5,5.5),(-9.0,0),(-5.72,0),(-5.39,8.4),(-5.11,15),(-4.85,14.4),(-4.52,19.7),(-4.19,24.4),(-3.97,25.3),(-3.64,20.6),(-3.2,15),(-2.77,16.9),(-2.44,18.2),(-2.0,19.3),(-1.56,15.9),(-1.23,19.7),(-0.8,22),(-0.47,15.9),(-0.14,8.4),(0.19,2.4),(0.41,0.6),(0.6,0),(2.6,0),(2.95,1.5),(3.3,0),(4.0,0.3),(4.3,3),(4.6,12),(4.95,21),(5.25,25.5),(5.5,22),(5.75,10),(6.0,1.5),(6.2,0.2),(6.4,0),(8.0,0)]
F_TOT_DN = [(-20,0.4),(-19.52,2.8),(-19.08,5.6),(-18.75,8.4),(-18.42,13.1),(-18.16,19.7),(-17.94,27.2),(-17.72,22.5),(-17.44,10.3),(-17.22,2.8),(-16.9,1.9),(-16.56,1.3),(-16.23,0.4),(-16.0,0),(-10.0,0),(-9.5,5.5),(-9.0,0),(-5.72,0),(-5.39,6.6),(-5.11,14.1),(-4.85,15),(-4.52,17.8),(-4.23,22.5),(-3.97,25),(-3.64,21.6),(-3.2,15.9),(-2.77,16.9),(-2.33,18.8),(-1.89,19.3),(-1.56,15.9),(-1.23,18.2),(-0.8,21.6),(-0.47,15.9),(-0.14,9.4),(0.19,2.8),(0.41,0.6),(0.6,0),(2.6,0),(2.95,1.3),(3.3,0),(4.0,0.3),(4.3,3),(4.6,12),(4.95,21),(5.25,25.5),(5.5,21),(5.75,9),(6.0,1.5),(6.2,0.2),(6.4,0),(8.0,0)]

# Axis tick values / labels
X_TICKS = [-20, -18, -16, -14, -12, -10, -8, -6, -4, -2, 0, 2, 4, 6, 8, 10]
X_LABELS = ["-20", "-18", "-16", "-14", "-12", "-10", "-8", "-6", "-4", "-2", "0", "2", "4", "6", "8", "10"]
PANEL_TITLES = ["a", "b", "c", "d", "e", "f"]
PANEL_ELEMS = ["Ti", "Be", "Mg", "Ca", "Sr", "Ba"]

# ---------------- STYLE ----------------
plt.rcParams["font.family"] = ["Liberation Sans", "DejaVu Sans"]
plt.rcParams["axes.unicode_minus"] = False
plt.rcParams["mathtext.fontset"] = "custom"
plt.rcParams["mathtext.rm"] = "Liberation Serif"
plt.rcParams["mathtext.bf"] = "Liberation Serif:bold"

K, R_, B_, M_, G_, N_ = "#000000", "#ff0000", "#0000ff", "#ff00ff", "#008000", "#000080"
LW = 4.8
TICK_FS = 29
LEG_FS = 36
LEG_FS_SMALL = 25

W, H = 3224, 3884
fig = plt.figure(figsize=(W / 100, H / 100), dpi=100)
fig.patch.set_facecolor("white")


def xy(p):
    a = np.array(p, dtype=float)
    return a[:, 0], a[:, 1]


def add_legend(ax, entries, x, ytop, small=False):
    fs = LEG_FS_SMALL if small else LEG_FS
    handles = [Line2D([], [], color=c, lw=7 if not small else 5.5) for c, _ in entries]
    leg = ax.legend(handles, [l for _, l in entries], loc="upper left",
                    bbox_to_anchor=(x, ytop), bbox_transform=ax.get_xaxis_transform(),
                    fontsize=fs, handlelength=2.2 if not small else 2.15,
                    handletextpad=0.0, labelspacing=0.2 if not small else 0.07,
                    borderpad=0.15, borderaxespad=0.0, frameon=True, fancybox=False,
                    edgecolor="0.55", framealpha=1.0, facecolor="white")
    leg.get_frame().set_linewidth(2.8)
    leg.set_zorder(6)
    ax.add_artist(leg)
    return leg


def draw_panel(idx, box, rows, leg_x, title_pos, dos_pos, e_pos, inner_top_labels=False):
    L, Rr, T, Bm = box
    n = len(rows)
    h = (Bm - T) / n
    for i, row in enumerate(rows):
        top = T + i * h
        ax = fig.add_axes([L / W, 1 - (top + h) / H, (Rr - L) / W, h / H])
        ax.set_facecolor("none")
        for data, col, _ in row["up"]:
            x, y = xy(data)
            ax.plot(x, y, color=col, lw=LW, solid_joinstyle="round", solid_capstyle="round", zorder=2)
        for data, col, _ in row["dn"]:
            x, y = xy(data)
            ax.plot(x, -y, color=col, lw=LW, solid_joinstyle="round", solid_capstyle="round", zorder=2)
        ax.axvline(0, color="k", lw=4.2, ls=(0, (5.0, 3.2)), zorder=3)
        ax.set_xlim(-20, 10)
        ax.set_ylim(-row["ylim"], row["ylim"])
        ax.set_xticks(X_TICKS)
        ax.xaxis.set_minor_locator(MultipleLocator(1))
        if i == n - 1:
            ax.set_xticklabels(X_LABELS, fontsize=TICK_FS)
        else:
            ax.set_xticklabels([])
        ax.set_yticks(row["yticks"])
        ax.set_yticklabels(row["ylabels"], fontsize=TICK_FS)
        ax.yaxis.set_minor_locator(MultipleLocator(row["yminor"]))
        ax.tick_params(axis="x", which="both", direction="in", top=True, bottom=True,
                       width=2.2, pad=9)
        ax.tick_params(axis="x", which="major", length=11)
        ax.tick_params(axis="x", which="minor", length=8)
        ax.tick_params(axis="y", which="both", direction="out", left=True, right=False,
                       width=2.2, pad=4)
        ax.tick_params(axis="y", which="major", length=7)
        ax.tick_params(axis="y", which="minor", length=5)
        for sp in ax.spines.values():
            sp.set_linewidth(2.8)
            sp.set_color("#222222")
        small = row.get("small", False)
        if row.get("total", False):
            add_legend(ax, [(c, l) for _, c, l in row["up"]] + [(c, l) for _, c, l in row["dn"]],
                       leg_x, 0.97)
        else:
            add_legend(ax, [(c, l) for _, c, l in row["up"]], leg_x, 0.975 if small else 0.97, small)
            add_legend(ax, [(c, l) for _, c, l in row["dn"]], leg_x, row["dn_top"], small)
        if inner_top_labels and i == n - 1:
            for xv, lab in zip(X_TICKS, X_LABELS):
                ax.text(xv, 0.885, lab, transform=ax.get_xaxis_transform(), ha="center",
                        va="center", fontsize=17, zorder=1)
    fig.text(title_pos[0] / W, 1 - title_pos[1] / H,
             r"($\mathbf{%s}$) %s" % (PANEL_TITLES[idx], PANEL_ELEMS[idx]),
             ha="center", va="center", fontsize=70, family="Liberation Serif")
    fig.text(dos_pos[0] / W, 1 - dos_pos[1] / H, "DOS", rotation=90, ha="center",
             va="center", fontsize=41)
    fig.text(e_pos[0] / W, 1 - e_pos[1] / H, "Energy(eV)", ha="center", va="center",
             fontsize=42)


def spin_row(up, dn, ylim, yticks, ylabels, yminor, dn_top, small=False):
    return {"up": up, "dn": dn, "ylim": ylim, "yticks": yticks, "ylabels": ylabels,
            "yminor": yminor, "dn_top": dn_top, "small": small}


def tot_row(up, dn, ylim, yticks, ylabels, yminor):
    return {"up": [(up, K, "Total")], "dn": [(dn, R_, "Total")], "ylim": ylim,
            "yticks": yticks, "ylabels": ylabels, "yminor": yminor, "total": True}


# ---------- panel (a) ----------
rows_a = [
    spin_row([(A_OS, K, "O s"), (A_OP, R_, "O p")], [(A_OS, B_, "O s"), (A_OP, M_, "O p")],
             4.0, [-2, 0, 2], ["-2", "0", "2"], 1, 0.35),
    spin_row([(A_TIP, K, "Ti p"), (A_TID, R_, "Ti d")], [(A_TIP, B_, "Ti p"), (A_TID, M_, "Ti d")],
             6.0, [-3, 0, 3], ["-3", "0", "3"], 1.5, 0.35),
    tot_row(A_TOT, A_TOT, 60, [-40, 0, 40], ["-40", "0", "40"], 20),
]
draw_panel(0, (122, 1544, 119, 1161), rows_a, -16, (790, 50), (42, 639), (837, 1233))

# ---------- panel (b) ----------
rows_b = [
    spin_row([(B_OS_UP, K, "O s"), (B_OP_UP, R_, "O p")], [(B_OS_DN, B_, "O s"), (B_OP_DN, M_, "O p")],
             5.9, [-3, 0, 3], ["-3", "0", "3"], 1.5, 0.465),
    spin_row([(B_TIP_UP, K, "Ti p"), (B_TID_UP, R_, "Ti d")], [(B_TIP_DN, B_, "Ti p"), (B_TID_DN, M_, "Ti d")],
             12.0, [-6, 0, 6], ["-6", "0", "6"], 3, 0.465),
    spin_row([(B_BES_UP, K, "Be s"), (B_BEP_UP, R_, "Be p")], [(B_BES_DN, B_, "Be s"), (B_BEP_DN, M_, "Be p")],
             0.19, [-0.1, 0, 0.1], ["-0.1", "0.0", "0.1"], 0.05, 0.465),
    tot_row(B_TOT_UP, B_TOT_DN, 36, [-36, -18, 0, 18, 36], ["-36", "-18", "0", "18", "36"], 9),
]
draw_panel(1, (1787, 3205, 119, 1162), rows_b, -16, (2446, 50), (1690, 635), (2506, 1233))

# ---------- panel (c) ----------
rows_c = [
    spin_row([(C_OS_UP, K, "O s"), (C_OP_UP, R_, "O p")], [(C_OS_DN, B_, "O s"), (C_OP_DN, M_, "O p")],
             3.9, [-2, 0, 2], ["-2", "0", "2"], 1, 0.465),
    spin_row([(C_TIP_UP, K, "Ti p"), (C_TID_UP, R_, "Ti d")], [(C_TIP_DN, B_, "Ti p"), (C_TID_DN, M_, "Ti d")],
             2.87, [-1.5, 0, 1.5], ["-1.5", "0.0", "1.5"], 0.75, 0.465),
    spin_row([(C_MGS_UP, K, "Mg s"), (C_MGP_UP, R_, "Mg p")], [(C_MGS_DN, B_, "Mg s"), (C_MGP_DN, M_, "Mg p")],
             0.071, [-0.05, 0, 0.05], ["-0.05", "0.00", "0.05"], 0.025, 0.465),
    tot_row(C_TOT_UP, C_TOT_DN, 28.5, [-15, 0, 15], ["-15", "0", "15"], 7.5),
]
draw_panel(2, (130, 1555, 1432, 2474), rows_c, -16, (785, 1362), (31, 1963), (853, 2546))

# ---------- panel (d) ----------
rows_d = [
    spin_row([(D_OS_UP, K, "O s"), (D_OP_UP, R_, "O p")], [(D_OS_DN, B_, "O s"), (D_OP_DN, M_, "O p")],
             2.98, [-1.5, 0, 1.5], ["-1.5", "0.0", "1.5"], 0.75, 0.465),
    spin_row([(D_TIP_UP, K, "Ti p"), (D_TID_UP, R_, "Ti d")], [(D_TIP_DN, B_, "Ti p"), (D_TID_DN, M_, "Ti d")],
             1.9, [-1, 0, 1], ["-1", "0", "1"], 0.5, 0.465),
    spin_row([(D_CAS_UP, K, "Ca s"), (D_CAP_UP, B_, "Ca p"), (D_CAD_UP, G_, "Ca d")],
             [(D_CAS_DN, R_, "Ca s"), (D_CAP_DN, M_, "Ca p"), (D_CAD_DN, N_, "Ca d")],
             0.128, [-0.1, 0, 0.1], ["-0.1", "0.0", "0.1"], 0.05, 0.5, small=True),
    tot_row(D_TOT_UP, D_TOT_DN, 28.9, [-15, 0, 15], ["-15", "0", "15"], 7.5),
]
draw_panel(3, (1787, 3205, 1430, 2475), rows_d, -16, (2446, 1362), (1690, 1938), (2506, 2546))

# ---------- panel (e) ----------
rows_e = [
    spin_row([(E_OS_UP, K, "O s"), (E_OP_UP, R_, "O p")], [(E_OS_DN, B_, "O s"), (E_OP_DN, M_, "O p")],
             2.56, [-1.3, 0, 1.3], ["-1.3", "0.0", "1.3"], 0.65, 0.465),
    spin_row([(E_TIP_UP, K, "Ti p"), (E_TID_UP, R_, "Ti d")], [(E_TIP_DN, B_, "Ti p"), (E_TID_DN, M_, "Ti d")],
             2.17, [-1.1, 0, 1.1], ["-1.1", "0.0", "1.1"], 0.55, 0.465),
    spin_row([(E_SRS_UP, K, "Sr s"), (E_SRP_UP, B_, "Sr p"), (E_SRD_UP, G_, "Sr d")],
             [(E_SRS_DN, R_, "Sr s"), (E_SRP_DN, M_, "Sr p"), (E_SRD_DN, N_, "Sr d")],
             0.15, [-0.1, 0, 0.1], ["-0.1", "0.0", "0.1"], 0.05, 0.5, small=True),
    tot_row(E_TOT_UP, E_TOT_DN, 28, [-14, 0, 14], ["-14", "0", "14"], 7),
]
draw_panel(4, (135, 1560, 2742, 3786), rows_e, -12, (788, 2675), (31, 3262), (853, 3852),
           inner_top_labels=True)

# ---------- panel (f) ----------
rows_f = [
    spin_row([(F_OS_UP, K, "O s"), (F_OP_UP, R_, "O p")], [(F_OS_DN, B_, "O s"), (F_OP_DN, M_, "O p")],
             2.8, [-2, 0, 2], ["-2", "0", "2"], 1, 0.465),
    spin_row([(F_TIP_UP, K, "Ti p"), (F_TID_UP, R_, "Ti d")], [(F_TIP_DN, B_, "Ti p"), (F_TID_DN, M_, "Ti d")],
             1.51, [-1, 0, 1], ["-1", "0", "1"], 0.5, 0.465),
    spin_row([(F_BAS_UP, K, "Ba s"), (F_BAP_UP, B_, "Ba p"), (F_BAD_UP, G_, "Ba d")],
             [(F_BAS_DN, R_, "Ba s"), (F_BAP_DN, M_, "Ba p"), (F_BAD_DN, N_, "Ba d")],
             0.15, [-0.1, 0, 0.1], ["-0.1", "0.0", "0.1"], 0.05, 0.5, small=True),
    tot_row(F_TOT_UP, F_TOT_DN, 29.8, [-15, 0, 15], ["-15", "0", "15"], 7.5),
]
draw_panel(5, (1787, 3205, 2742, 3786), rows_f, -16, (2446, 2675), (1690, 3262), (2501, 3852))

fig.savefig("out.png", dpi=100, facecolor="white")
